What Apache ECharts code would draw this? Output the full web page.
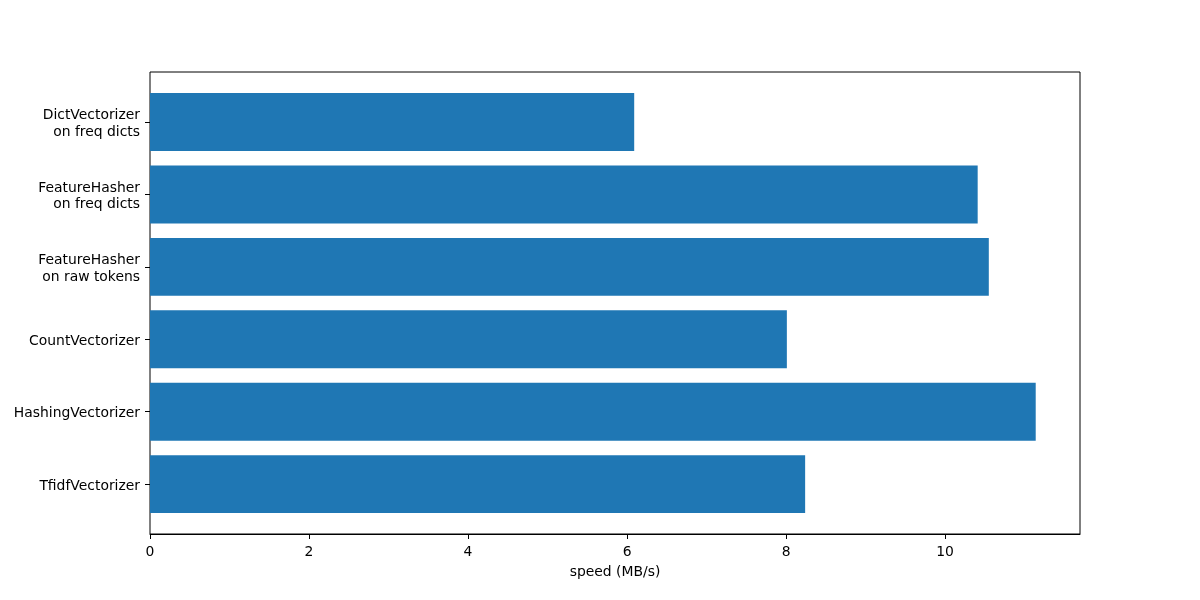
<!DOCTYPE html>
<html>
<head>
<meta charset="utf-8">
<script src="https://cdn.jsdelivr.net/npm/echarts@6/dist/echarts.min.js"></script>
<style>html,body{margin:0;padding:0;background:#fff}#c{width:1200px;height:600px}</style>
</head>
<body>
<div id="c"></div>
<script>
const categories = [
  'DictVectorizer\non freq dicts',
  'FeatureHasher\non freq dicts',
  'FeatureHasher\non raw tokens',
  'CountVectorizer',
  'HashingVectorizer',
  'TfidfVectorizer'
];
const speeds = [6.09, 10.41, 10.55, 8.01, 11.14, 8.24];
const xTicks = [0, 2, 4, 6, 8, 10];
const xMax = 11.697;

const font = 'DejaVu Sans';
const chart = echarts.init(document.getElementById('c'), null, {renderer: 'canvas'});
chart.setOption({
  animation: false,
  backgroundColor: '#fff',
  textStyle: {fontFamily: font},
  grid: [
    {left: 150, right: 120, top: 72, height: 462, show: true, borderColor: '#000', borderWidth: 1, backgroundColor: 'transparent'},
    {left: 150, right: 120, top: 85.8, height: 434.5, show: false}
  ],
  xAxis: [
    {
      gridIndex: 0, type: 'value', min: 0, max: xMax,
      name: 'speed (MB/s)', nameLocation: 'middle', nameGap: 31,
      nameTextStyle: {color: '#000', fontSize: 13.9, fontFamily: font},
      axisLine: {show: true, lineStyle: {color: '#000', width: 1}},
      axisTick: {show: true, length: 5, inside: false, customValues: xTicks, lineStyle: {color: '#000'}},
      axisLabel: {show: true, margin: 11, customValues: xTicks, color: '#000', fontSize: 13.9, fontFamily: font},
      splitLine: {show: false}
    },
    {gridIndex: 1, type: 'value', min: 0, max: xMax, show: false}
  ],
  yAxis: [
    {gridIndex: 0, type: 'value', show: false, min: 0, max: 1},
    {
      gridIndex: 1, type: 'category', inverse: true, data: categories,
      axisLine: {show: false},
      axisTick: {show: true, length: 5, inside: false, alignWithLabel: true, lineStyle: {color: '#000'}},
      axisLabel: {
        margin: 10, color: '#000', fontSize: 13.9, fontFamily: font, lineHeight: 16.5, align: 'right',
        formatter: function (v) { return v.split('\n').map(function (s) { return '{t|' + s + '}'; }).join('\n'); },
        rich: {t: {color: '#000', fontSize: 13.9, fontFamily: font, lineHeight: 16.5, padding: [4, 0, 0, 0]}}
      },
      splitLine: {show: false}
    }
  ],
  series: [{
    type: 'bar', xAxisIndex: 1, yAxisIndex: 1,
    data: speeds, barWidth: 57.9,
    itemStyle: {color: '#1f77b4'}
  }]
});
</script>
</body>
</html>
